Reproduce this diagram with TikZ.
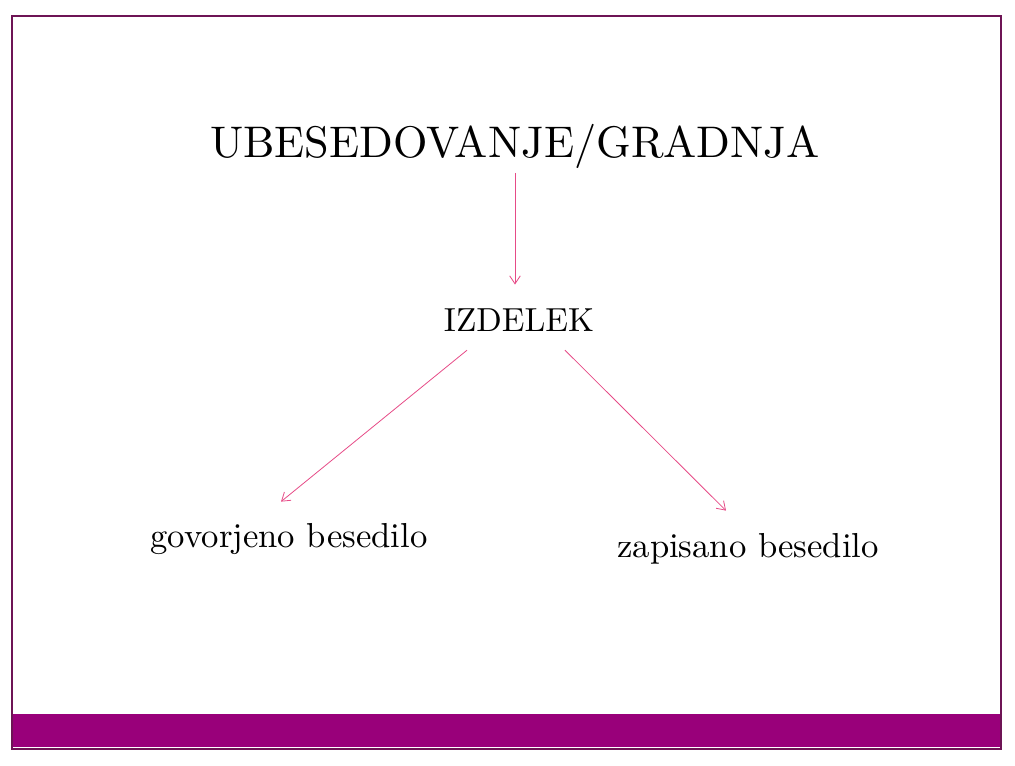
\documentclass[tikz,border=0pt]{standalone}
\usepackage{fontspec}
\setmainfont{lmroman10-regular}[Extension=.otf]
\usetikzlibrary{calc,arrows.meta}

\definecolor{framecol}{RGB}{110,20,85}
\definecolor{barcol}{RGB}{153,0,122}
\definecolor{arrcol}{RGB}{230,75,135}

\begin{document}
\begin{tikzpicture}[x=0.75pt,y=-0.75pt,
  arr/.style={draw=arrcol, line width=0.6pt, -{Straight Barb[length=6pt,width=8pt]}},
  big/.style={anchor=base, font=\fontsize{33.2}{38}\selectfont},
  mid/.style={anchor=base, font=\fontsize{26}{30}\selectfont}]

% Page size
\useasboundingbox (0,0) rectangle (1015,765);

% Frame and bottom bar
\fill[barcol] (11,714) rectangle (1001,747);
\draw[framecol, line width=0.9pt] (12,16) rectangle (1001,749);

% Texts
\node[big] (title) at (515,157) {UBESEDOVANJE/GRADNJA};
\node[mid, font=\fontsize{25}{30}\selectfont] (izdelek) at (519,331) {IZDELEK};
\node[mid] (govor) at (289,547) {govorjeno besedilo};
\node[mid] (zapis) at (748,557) {zapisano besedilo};

% Arrows
\draw[arr] (title.south) -- ($(title.south |- izdelek.north)+(0,-19)$);
\draw[arr] ($(izdelek.south)+(-52,14.5)$) -- ($(govor.north)+(-8,-16.6)$);
\draw[arr] ($(izdelek.south)+(46,14.5)$) -- ($(zapis.north)+(-22,-17.6)$);

\end{tikzpicture}
\end{document}
